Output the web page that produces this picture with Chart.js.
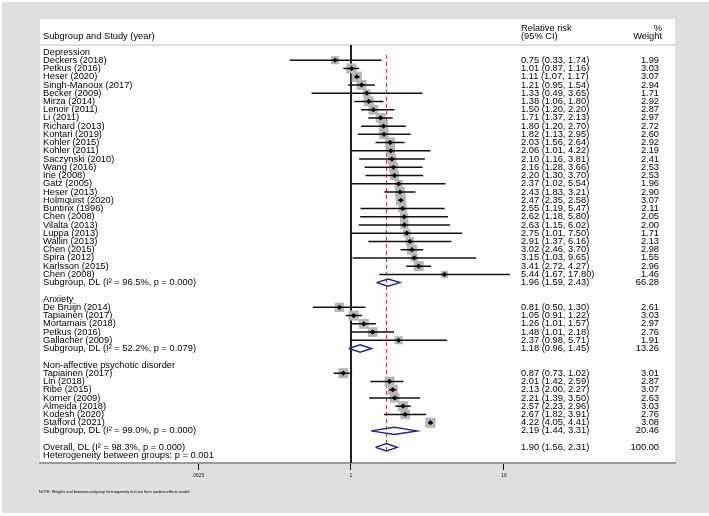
<!DOCTYPE html>
<html>
<head>
<meta charset="utf-8">
<script src="https://cdn.jsdelivr.net/npm/chart.js@4.4.0/dist/chart.umd.min.js"></script>
<style>
html, body { margin: 0; padding: 0; background: #fff; }
#bg { position: absolute; left: 2px; top: 2px; width: 707px; height: 511px; background: #dedede; }
#panel { position: absolute; left: 40px; top: 19px; width: 635px; height: 444px; background: #fff; }
#wrap { position: absolute; left: 0; top: 0; width: 709px; height: 516px; }
</style>
</head>
<body>
<div id="bg"></div>
<div id="panel"></div>
<div id="wrap"><canvas id="forest"></canvas></div>
<script>
// subgroups
const groupNames = ['Depression', 'Anxiety', 'Non-affective psychotic disorder'];

// depression studies
const depStudies = ['Deckers (2018)', 'Petkus (2016)', 'Heser (2020)', 'Singh-Manoux (2017)', 'Becker (2009)',
  'Mirza (2014)', 'Lenoir (2011)', 'Li (2011)', 'Richard (2013)', 'Kontari (2019)', 'Kohler (2015)',
  'Kohler (2011)', 'Saczynski (2010)', 'Wang (2016)', 'Irie (2008)', 'Gatz (2005)', 'Heser (2013)',
  'Holmquist (2020)', 'Buntinx (1996)', 'Chen (2008)', 'Vilalta (2013)', 'Luppa (2013)', 'Wallin (2013)',
  'Chen (2015)', 'Spira (2012)', 'Karlsson (2015)', 'Chen (2008)'];
const depRR = [0.75, 1.01, 1.11, 1.21, 1.33, 1.38, 1.50, 1.71, 1.80, 1.82, 2.03, 2.06, 2.10, 2.16, 2.20,
  2.37, 2.43, 2.47, 2.55, 2.62, 2.63, 2.75, 2.91, 3.02, 3.15, 3.41, 5.44];
const depLo = [0.33, 0.87, 1.07, 0.95, 0.49, 1.06, 1.20, 1.37, 1.20, 1.13, 1.56, 1.01, 1.16, 1.28, 1.30,
  1.02, 1.83, 2.35, 1.19, 1.18, 1.15, 1.01, 1.37, 2.46, 1.03, 2.72, 1.67];
const depHi = [1.74, 1.16, 1.17, 1.54, 3.65, 1.80, 2.20, 2.13, 2.70, 2.95, 2.64, 4.22, 3.81, 3.66, 3.70,
  5.54, 3.21, 2.58, 5.47, 5.80, 6.02, 7.50, 6.16, 3.70, 9.65, 4.27, 17.80];
const depWeight = [1.99, 3.03, 3.07, 2.94, 1.71, 2.92, 2.87, 2.97, 2.72, 2.60, 2.92, 2.19, 2.41, 2.53, 2.53,
  1.96, 2.90, 3.07, 2.11, 2.05, 2.00, 1.71, 2.13, 2.98, 1.55, 2.96, 1.46];

// anxiety studies
const anxStudies = ['De Bruijn (2014)', 'Tapiainen (2017)', 'Mortamais (2018)', 'Petkus (2016)', 'Gallacher (2009)'];
const anxRR = [0.81, 1.05, 1.26, 1.48, 2.37];
const anxLo = [0.50, 0.91, 1.01, 1.01, 0.98];
const anxHi = [1.30, 1.22, 1.57, 2.18, 5.71];
const anxWeight = [2.61, 3.03, 2.97, 2.76, 1.91];

// non-affective psychotic disorder studies
const psyStudies = ['Tapiainen (2017)', 'Lin (2018)', 'Ribe (2015)', 'Korner (2009)', 'Almeida (2018)',
  'Kodesh (2020)', 'Stafford (2021)'];
const psyRR = [0.87, 2.01, 2.13, 2.21, 2.57, 2.67, 4.22];
const psyLo = [0.73, 1.42, 2.00, 1.39, 2.23, 1.82, 4.05];
const psyHi = [1.02, 2.59, 2.27, 3.50, 2.96, 3.91, 4.41];
const psyWeight = [3.01, 2.87, 3.07, 2.63, 3.03, 2.76, 3.08];

// pooled estimates
const subRR = [1.96, 1.18, 2.19];
const subLo = [1.59, 0.96, 1.44];
const subHi = [2.43, 1.45, 3.31];
const subWeight = [66.28, 13.26, 20.46];
const subI2 = [96.5, 52.2, 99.0];
const subP = [0.000, 0.079, 0.000];

const overallRR = 1.90, overallLo = 1.56, overallHi = 2.31, overallWeight = 100.00;
const overallI2 = 98.3, overallP = 0.000;
const betweenP = 0.001;

const xTicks = [0.0625, 1, 16];
const xTickLabels = ['.0625', '1', '16'];

// build rows
const groups = [
  {names: depStudies, rr: depRR, lo: depLo, hi: depHi, w: depWeight},
  {names: anxStudies, rr: anxRR, lo: anxLo, hi: anxHi, w: anxWeight},
  {names: psyStudies, rr: psyRR, lo: psyLo, hi: psyHi, w: psyWeight}
];
const rows = [];
let r = 0;
groups.forEach((g, gi) => {
  rows.push({y: r++, label: groupNames[gi], kind: 'head'});
  g.names.forEach((n, i) => {
    rows.push({y: r++, label: n, kind: 'study', rr: g.rr[i], lo: g.lo[i], hi: g.hi[i], w: g.w[i]});
  });
  rows.push({y: r++, label: 'Subgroup, DL (I\u00b2 = ' + subI2[gi].toFixed(1) + '%, p = ' + subP[gi].toFixed(3) + ')',
    kind: 'pool', rr: subRR[gi], lo: subLo[gi], hi: subHi[gi], w: subWeight[gi]});
  r++;
});
rows.push({y: r++, label: 'Overall, DL (I\u00b2 = ' + overallI2.toFixed(1) + '%, p = ' + overallP.toFixed(3) + ')',
  kind: 'pool', rr: overallRR, lo: overallLo, hi: overallHi, w: overallWeight});
rows.push({y: r++, label: 'Heterogeneity between groups: p = ' + betweenP.toFixed(3), kind: 'note'});

const studies = rows.filter(d => d.kind === 'study');
const pools = rows.filter(d => d.kind === 'pool');

const yMin = -0.85, yMax = 49.9;
const xMin = Math.pow(2, -8.131), xMax = Math.pow(2, 8.471);
const dh = 0.45;

const ciData = [];
studies.forEach(d => { ciData.push({x: d.lo, y: d.y}, {x: d.hi, y: d.y}, {x: null, y: null}); });
const diamondData = [];
pools.forEach(d => {
  diamondData.push({x: d.lo, y: d.y}, {x: d.rr, y: d.y - dh}, {x: d.hi, y: d.y}, {x: d.rr, y: d.y + dh},
    {x: d.lo, y: d.y}, {x: null, y: null});
});

const FONT = '"Liberation Sans", Arial, Helvetica, sans-serif';
function txt(ctx, s, x, y, align, size) {
  ctx.font = size + 'px ' + FONT;
  ctx.textAlign = align;
  ctx.textBaseline = 'middle';
  ctx.fillStyle = '#000';
  ctx.fillText(s, x, y);
}

const textPlugin = {
  id: 'forestText',
  beforeDatasetsDraw(chart) {
    const ctx = chart.ctx, a = chart.chartArea;
    ctx.save();
    ctx.strokeStyle = '#d4d4d4';
    ctx.lineWidth = 1.5;
    ctx.beginPath();
    ctx.moveTo(40, a.top);
    ctx.lineTo(675, a.top);
    ctx.stroke();
    ctx.restore();
  },
  afterDraw(chart) {
    const ctx = chart.ctx, ys = chart.scales.y;
    ctx.save();
    txt(ctx, 'Subgroup and Study (year)', 43, 36, 'left', 9.3);
    txt(ctx, 'Relative risk', 521, 28, 'left', 9.3);
    txt(ctx, '(95% CI)', 521, 36.5, 'left', 9.3);
    txt(ctx, '%', 662, 28, 'right', 9.3);
    txt(ctx, 'Weight', 662, 36.5, 'right', 9.3);
    rows.forEach(d => {
      const py = ys.getPixelForValue(d.y);
      txt(ctx, d.label, 43, py, 'left', 9.3);
      if (d.rr !== undefined) {
        txt(ctx, d.rr.toFixed(2) + ' (' + d.lo.toFixed(2) + ', ' + d.hi.toFixed(2) + ')', 521, py, 'left', 9.3);
        txt(ctx, d.w.toFixed(2), 659, py, 'right', 9.3);
      }
    });
    txt(ctx, 'NOTE: Weights and between-subgroup heterogeneity test are from random-effects model', 39, 492, 'left', 3.8);
    ctx.restore();
  }
};

new Chart(document.getElementById('forest'), {
  type: 'scatter',
  data: {
    datasets: [
      {
        label: 'weight',
        data: studies.map(d => ({x: d.rr, y: d.y})),
        pointStyle: 'rect',
        pointRadius: studies.map(d => 4.1 * Math.sqrt(d.w)),
        backgroundColor: '#b6b6b6',
        borderWidth: 0,
        order: 4
      },
      {
        label: 'ci',
        data: ciData,
        showLine: true,
        borderColor: '#111',
        borderWidth: 1.5,
        pointRadius: 0,
        order: 3
      },
      {
        label: 'estimate',
        data: studies.map(d => ({x: d.rr, y: d.y})),
        pointStyle: 'rectRot',
        pointRadius: 2.6,
        backgroundColor: '#000',
        borderWidth: 0,
        order: 1
      },
      {
        label: 'pooled',
        data: diamondData,
        showLine: true,
        borderColor: '#1f2a86',
        borderWidth: 1.5,
        pointRadius: 0,
        order: 2
      },
      {
        label: 'null',
        data: [{x: 1, y: yMin}, {x: 1, y: yMax}],
        showLine: true,
        borderColor: '#000',
        borderWidth: 1,
        pointRadius: 0,
        order: 5
      },
      {
        label: 'overall',
        data: [{x: overallRR, y: 0.35}, {x: overallRR, y: 48.4}],
        showLine: true,
        borderColor: '#c0302e',
        borderWidth: 1,
        borderDash: [4, 3],
        pointRadius: 0,
        order: 5
      }
    ]
  },
  options: {
    responsive: true,
    maintainAspectRatio: false,
    animation: false,
    layout: { padding: { left: 40, right: 34, top: 45, bottom: 37 } },
    plugins: { legend: { display: false }, tooltip: { enabled: false } },
    scales: {
      x: {
        type: 'logarithmic',
        min: xMin,
        max: xMax,
        afterBuildTicks: s => { s.ticks = xTicks.map(v => ({value: v})); },
        afterFit: s => { s.height = 16; },
        ticks: {
          callback: (v, i) => xTickLabels[i],
          font: { size: 5, family: FONT },
          color: '#222',
          padding: 3,
          maxRotation: 0,
          autoSkip: false
        },
        grid: { drawOnChartArea: false, drawTicks: true, tickLength: 7, tickColor: '#000', tickWidth: 1 },
        border: { display: true, color: '#9a9a9a', width: 2 }
      },
      y: {
        type: 'linear',
        display: false,
        reverse: true,
        min: yMin,
        max: yMax
      }
    }
  },
  plugins: [textPlugin]
});
</script>
</body>
</html>
